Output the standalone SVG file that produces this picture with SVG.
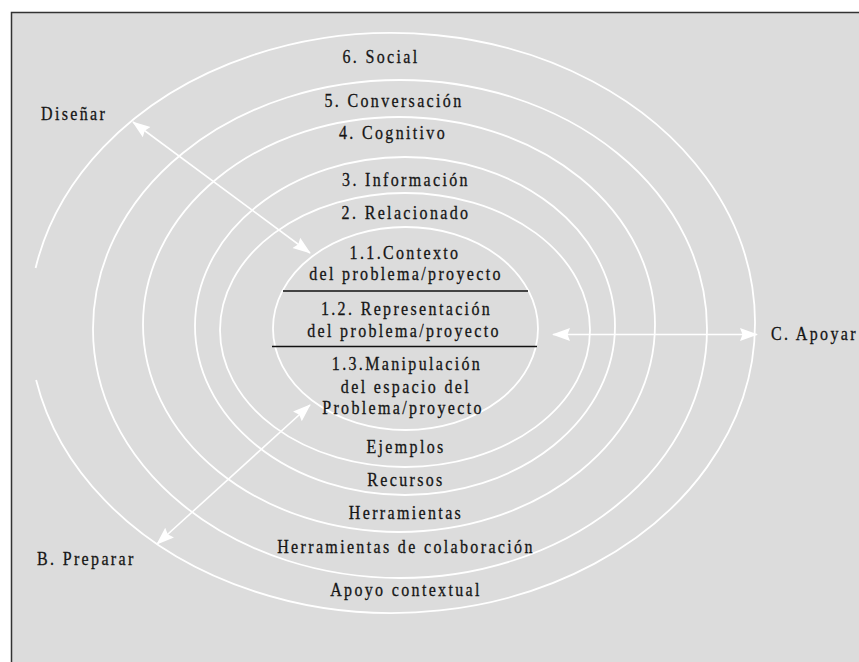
<svg xmlns="http://www.w3.org/2000/svg" width="859" height="662" viewBox="0 0 859 662">
  <style>
    .ring { fill: none; stroke: #ffffff; stroke-width: 1.8; }
    .conn { fill: none; stroke: #ffffff; stroke-width: 1.6; }
    .div { stroke: #111111; stroke-width: 1.6; }
    .t { font-size: 16px; letter-spacing: 2.35px; fill: #151515; stroke: #151515; stroke-width: 0.25px; }
    .c { text-anchor: middle; }
  </style>
  <defs>
    <marker id="ah" markerUnits="userSpaceOnUse" markerWidth="18" markerHeight="14" refX="17" refY="7" orient="auto-start-reverse" viewBox="0 0 18 14">
      <path d="M0,0.5 L18,7 L0,13.5 L2.5,7 z" fill="#ffffff"/>
    </marker>
  </defs>
  <rect x="0" y="0" width="859" height="662" fill="#ffffff"/>
  <rect id="frame" x="11.5" y="12.5" width="900" height="700" fill="#dcdcdc" stroke="#333333" stroke-width="1.5"/>

  <g id="ring-6-social">
    <path class="ring" d="M35.6,268 A363,290 0 1 1 36.1,380"/>
  </g>
  <g id="ring-5-conversacion">
    <ellipse class="ring" cx="400" cy="329" rx="307" ry="249"/>
  </g>
  <g id="ring-4-cognitivo">
    <ellipse class="ring" cx="399" cy="324.5" rx="256" ry="207.5"/>
  </g>
  <g id="ring-3-informacion">
    <ellipse class="ring" cx="405" cy="326" rx="210" ry="169"/>
  </g>
  <g id="ring-2-relacionado">
    <ellipse class="ring" cx="405" cy="330" rx="185" ry="137"/>
  </g>
  <g id="ring-1-problema">
    <ellipse class="ring" cx="405.5" cy="328.5" rx="132.5" ry="101.5"/>
    <line class="div" x1="283" y1="291" x2="528" y2="291"/>
    <line class="div" x1="272" y1="346.5" x2="537" y2="346.5"/>
  </g>

  <g id="connectors">
    <line class="conn" x1="133" y1="122" x2="310" y2="253" marker-start="url(#ah)" marker-end="url(#ah)"/>
    <line class="conn" x1="310" y1="405" x2="157" y2="544" marker-start="url(#ah)" marker-end="url(#ah)"/>
    <line class="conn" x1="553" y1="334.5" x2="757" y2="334.5" marker-start="url(#ah)" marker-end="url(#ah)"/>
  </g>

  <g id="labels" class="t" font-family="'Liberation Serif', 'Times New Roman', serif" transform="scale(1,1.2)">
    <text class="c" x="381" y="52.75">6. Social</text>
    <text x="41" y="99.6">Diseñar</text>
    <text class="c" x="394" y="89.4">5. Conversación</text>
    <text class="c" x="393" y="116.25">4. Cognitivo</text>
    <text class="c" x="406" y="155">3. Información</text>
    <text class="c" x="406" y="182.75">2. Relacionado</text>
    <text class="c" x="405" y="215.8">1.1.Contexto</text>
    <text class="c" x="406" y="233.3">del problema/proyecto</text>
    <text class="c" x="406.5" y="262.5">1.2. Representación</text>
    <text class="c" x="404" y="280.6">del problema/proyecto</text>
    <text class="c" x="407" y="308.3">1.3.Manipulación</text>
    <text class="c" x="406" y="327.25">del espacio del</text>
    <text class="c" x="403" y="345">Problema/proyecto</text>
    <text class="c" x="406" y="377.75">Ejemplos</text>
    <text class="c" x="406" y="405">Recursos</text>
    <text class="c" x="406" y="432.75">Herramientas</text>
    <text class="c" x="406" y="461.1">Herramientas de colaboración</text>
    <text class="c" x="406" y="496.7">Apoyo contextual</text>
    <text x="37" y="470.8">B. Preparar</text>
    <text x="771" y="283.3">C. Apoyar</text>
  </g>
</svg>
